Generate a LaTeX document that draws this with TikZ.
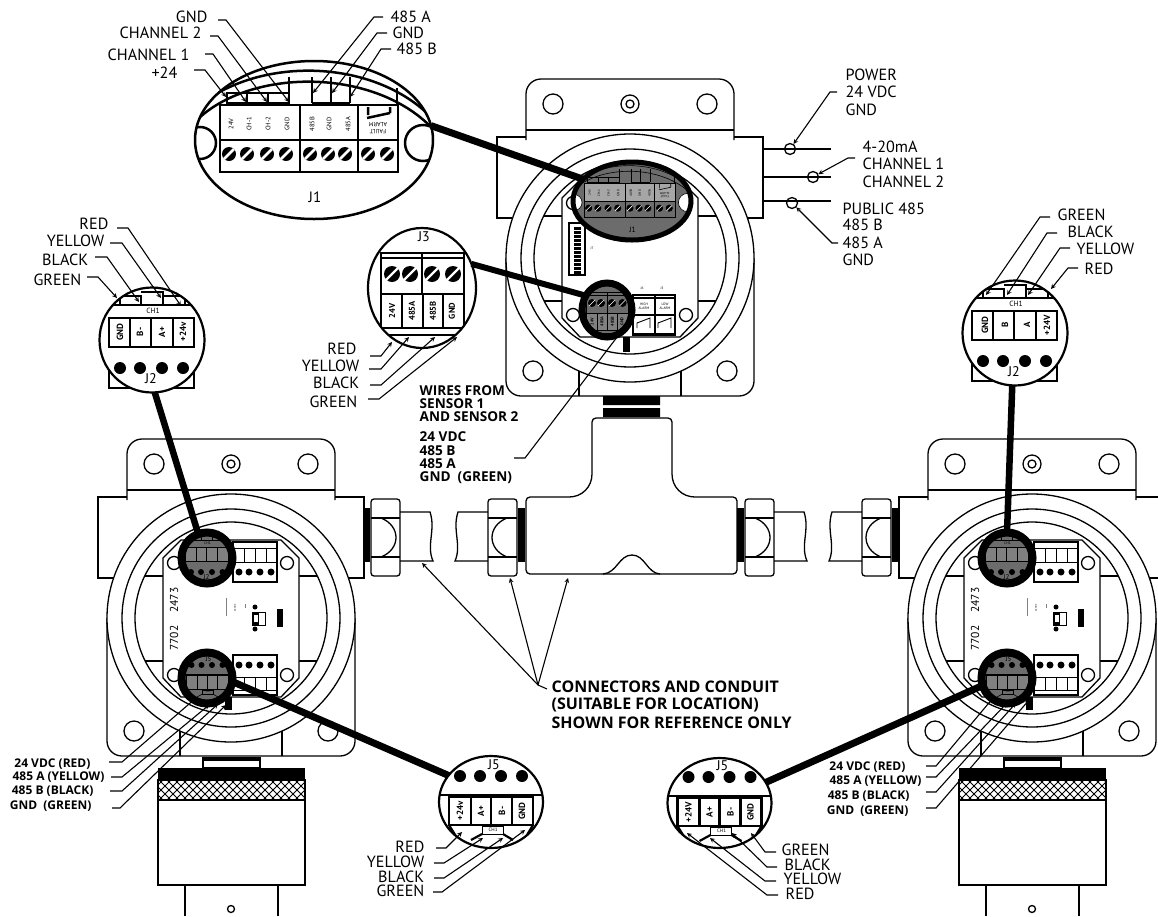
\documentclass[tikz,border=0pt]{standalone}
\usepackage{fontspec}
\setmainfont{PT Sans}
\newfontfamily\boldfam{Open Sans}
\usetikzlibrary{shapes.geometric}
\tikzset{
    lbl/.style={font=\fontsize{16.2}{17}\selectfont,inner sep=0pt},
    boldlbl/.style={font=\fontsize{12}{14}\boldfam\bfseries,inner sep=0pt},
    note/.style={inner sep=0pt,anchor=west},
    pintxt/.style={inner sep=0pt,transform shape},
    leader/.style={->,>=stealth,line width=1.1pt},
    tie/.style={line width=#1},
    callout/.style={ellipse,draw,inner sep=0pt,outer sep=0pt},
    % enclosure, seen from the front
    pics/housing/.style={code={
        \draw[rounded corners=15] (-104,-118)--(-104,-179)--(104,-179)--(104,-118);
        \draw (-104,-128)--(104,-128);
        \foreach \s in {-1,1} \draw (\s*104,-121)--(\s*133,-121)--(\s*133,-40)--(\s*100,-40);
        \draw[rounded corners=15] (-124,0)--(-124,138)--(124,138)--(124,0);
        \draw (-51,100)--(-51,138) (51,100)--(51,138);
        \draw[fill=white] (0,0) circle[radius=124];
        \foreach \r in {109,96} \draw (0,0) circle[radius=\r];
        \foreach \x/\y in {-77/-154,77/-154,-97/113,97/113} \draw (\x,\y) circle[radius=10];
        \draw (0,-154) circle[radius=9] (0,-154) circle[radius=4];
        \draw (-86,-42)--(-68,-42) (68,-42)--(86,-42) (-86,43)--(-68,43) (68,43)--(86,43);
        \draw[fill=white] (-68,-60)--(-50,-78)--(50,-78)--(68,-60)--(68,60)--(50,79)--(-50,79)--(-68,60)--cycle;
        \foreach \x/\y in {-57/-55,56/-55,-57/57,56/57} \draw (\x,\y) circle[radius=6.5];
    }},
    % board of the two side enclosures
    pics/sideboard/.style={code={
        \node[pintxt,rotate=90,font=\fontsize{11.5}{12}\selectfont] (a) at (-57,-18) {2473};
        \node[pintxt,rotate=90,font=\fontsize{11.5}{12}\selectfont] (b) at (-57,20) {7702};
        \node[pintxt,rotate=90,font=\fontsize{2.5}{3}\selectfont] (c) at (4,-10) {24VDC};
        \draw[line width=.4pt,gray] (-5,-20)--(-5,-2) (14,-14)--(14,-10);
        \draw[fill=white,line width=1pt] (21,-6) rectangle (34,7);
        \fill (21,-6) rectangle (28,7);
        \fill[white] (23,-3) rectangle (27,4);
        \fill (24,-11) circle[radius=2.5] (24,11) circle[radius=2.5];
        \fill (46,-9) rectangle (52,9);
        \foreach \y/\d/\a/\b in {-76/-46/-70/-56,37/47/59/72}{
            \draw (2,\y) rectangle (46,\y+40);
            \foreach \x in {2,13,24,35,46} \draw[line width=.8pt] (\x,\a)--(\x,\b);
            \draw[line width=.8pt] (2,\a)--(46,\a) (2,\b)--(46,\b);
            \foreach \x in {8,18,29,40} \fill (\x,\d) circle[radius=3.5];
        }
        \fill (-6,79) rectangle (1,92);
    }},
    % board of the top enclosure
    pics/topboard/.style={code={
        \draw (-61,-35) rectangle (-45,17);
        \foreach \y in {-31,-27,...,13} \fill (-56,\y) rectangle (-49,\y+2.6);
        \node[pintxt,font=\fontsize{3.5}{4}\selectfont] (jseven) at (-38,-10) {J7};
        \node[pintxt,font=\fontsize{3.5}{4}\selectfont] (jsix) at (12,30) {J6};
        \node[pintxt,font=\fontsize{3.5}{4}\selectfont] (jfive) at (32,30) {J5};
        \draw (3,37) rectangle (45,77) (25,37)--(25,77) (3,40)--(45,40) (3,57)--(45,57);
        \fill (3,75) rectangle (45,77);
        \foreach \x/\t/\c in {14/HIGH/hi,35/LOW/lo}{
            \node[pintxt,font=\fontsize{3.5}{4}\selectfont,align=center] (\c) at (\x,48) {\t\\ALARM};
            \draw[line width=.9pt] (\x-7,70)--(\x-7,65)--(\x+6,60)--(\x+6,70);
        }
        \fill (-7,79) rectangle (0,94);
    }},
    % the large terminal block
    pics/jone/.style={code={
        \draw (-120,-30) .. controls (-60,-84) and (60,-84) .. (120,-20);
        \draw (-115,-22) .. controls (-60,-72) and (60,-72) .. (118,-12);
        \foreach \x/\t in {-114/16,109/18} \draw[fill=white] (\x,3) circle[radius=\t];
        \draw[fill=#1] (-94,-35) rectangle (84,0);
        \draw (-94,0) rectangle (84,32) (-14,-35)--(-14,32) (44,-35)--(44,32);
        \draw (-87,-35)--(-87,-47)--(-25,-47)--(-25,-35) (-67,-47)--(-67,-37)--(-25,-37) (-46,-47)--(-46,-37) (-87,-37)--(-67,-37);
        \foreach \x in {-25,-2,17,36} \draw (\x,-63)--(\x,-37);
        \draw (-2,-37)--(36,-37) (83,-52)--(83,-35);
        \foreach \x in {-85,-67,-47,-28,-4,14,31,54,73}{
            \fill[black] (\x,14) circle[radius=7];
            \draw[white] (\x-5,19)--(\x+5,9);
        }
        \foreach \x/\t/\c in {-83/24V/a,-65/CH-1/b,-46/CH-2/c,-27/GND/d,-2/485B/e,15/GND/f,34/485A/g}
            \node[pintxt,rotate=90,font=\fontsize{6.5}{7}\selectfont] (\c) at (\x,-16) {\t};
        \node[pintxt,rotate=180,font=\fontsize{6}{7}\selectfont] (fault) at (64,-8) {FAULT};
        \node[pintxt,rotate=180,font=\fontsize{6}{7}\selectfont] (alarm) at (64,-15) {ALARM};
        \draw (54,-33)--(54,-25) (53,-22)--(76,-27) (76,-33)--(76,-27);
        \node[pintxt,font=\fontsize{15}{16}\selectfont] (lab) at (1,57) {J1};
    }},
    % the terminal block of the top enclosure
    pics/jthree/.style={code={
        \draw (-41,-35) rectangle (42,47) (-41,-30)--(42,-30) (0,-35)--(0,6) (-41,6)--(42,6) (-41,40)--(42,40);
        \foreach \x in {-20,1,21} \draw (\x,6)--(\x,40);
        \draw[fill=#1] (-41,6) rectangle (-20,40) (-20,6) rectangle (1,40) (1,6) rectangle (21,40) (21,6) rectangle (42,40);
        \foreach \x in {-30,-12,10,31}{
            \fill[black] (\x,-14) circle[radius=8];
            \draw[white] (\x-6,-8)--(\x+6,-20);
        }
        \foreach \x/\t/\c in {-30/24V/a,-10/485A/b,11/485B/c,30/GND/d}
            \node[pintxt,rotate=90,font=\fontsize{8.5}{9}\selectfont\bfseries] (\c) at (\x,23) {\t};
        \node[pintxt,font=\fontsize{14}{15}\selectfont] (lab) at (2,-51) {J3};
    }},
    % sensor block with the holes below its pins
    pics/jtwo/.style 2 args={code={
        \draw (-43,-35)--(42,-35) (-43,-22)--(42,-22) (-43,7)--(42,7);
        \foreach \x in {-43,-22,-1,21,42} \draw (\x,-22)--(\x,7);
        \draw[fill=#1] (-43,-22) rectangle (-22,7) (-22,-22) rectangle (-1,7) (-1,-22) rectangle (21,7) (21,-22) rectangle (42,7);
        \draw (-32,-36)--(-32,-44)--(-11,-44)--(-11,-36) (-11,-48)--(11,-48)--(11,-36) (11,-44)--(33,-44)--(33,-36);
        \foreach \x in {-32,-12,10,31} \fill[black] (\x,28) circle[radius=6];
        \foreach \x/\t [count=\i] in #2
            \node[pintxt,rotate=90,font=\fontsize{9}{10}\selectfont\bfseries] (t\i) at (\x,-8) {\t};
        \node[pintxt,font=\fontsize{7.5}{8}\selectfont] (ch) at (1,-29) {CH1};
        \node[pintxt,font=\fontsize{14}{15}\selectfont] (lab) at (-1,39) {J2};
    }},
    % sensor block with the holes above its pins
    pics/jfive/.style 2 args={code={
        \draw (-52,-7)--(52,-7) (-42,23)--(42,23);
        \foreach \x in {-42,-20,0,21,42} \draw (\x,-7)--(\x,23);
        \draw[fill=#1] (-42,-5) rectangle (-20,23) (-20,-5) rectangle (0,23) (0,-5) rectangle (21,23) (21,-5) rectangle (42,23);
        \foreach \x in {-31,-11,10,31} \fill[black] (\x,-26) circle[radius=6];
        \foreach \x/\t [count=\i] in #2
            \node[pintxt,rotate=90,font=\fontsize{9}{10}\selectfont\bfseries] (t\i) at (\x,9) {\t};
        \draw[line width=.7pt] (-9,24) rectangle (12,32);
        \node[pintxt,font=\fontsize{5}{6}\selectfont] (ch) at (2,28) {CH1};
        \node[pintxt,font=\fontsize{14}{15}\selectfont] (lab) at (3,-37) {J5};
        \draw (-42,23)--(-34,36) (-9,32)--(-20,38) (12,32)--(22,38) (42,23)--(36,33);
    }},
    % nut, ring and cut end of a conduit
    pics/conduit/.style={code={
        \fill (0,508) rectangle (7,562);
        \draw[rounded corners=3] (8,499) rectangle (37,576);
        \draw (8,518)--(37,518) (8,557)--(37,557);
        \draw (18,518) .. controls (38,526) and (38,549) .. (18,557);
        \draw (37,512)--(67,512) .. controls (73,530) and (63,545) .. (70,561)--(37,561);
    }},
    pics/sensor/.style={code={
        \draw[fill=white] (-28,758) rectangle (29,768);
        \fill (-28,758) rectangle (29,761);
        \fill (-73,768) rectangle (74,780);
        \draw (-73,780) rectangle (74,885);
        \begin{scope}
            \clip (-73,780) rectangle (74,800);
            \foreach \x in {-96,-88,...,76} \draw[line width=1pt] (\x,780)--(\x+20,800) (\x+20,780)--(\x,800);
        \end{scope}
        \draw (-73,800)--(74,800);
        \draw (-46,885)--(-46,916) (47,885)--(47,916);
        \draw (0,909) circle[radius=3.5];
    }},
}
\begin{document}
\begin{tikzpicture}[x=1pt,y=-1pt,line width=1.3pt]
    \useasboundingbox (0,0) rectangle (1158,916);
    % three enclosures
    \pic (hleft) at (231,618) {housing};
    \pic (hright) at (1032,618) {housing};
    \pic (htop) at (630,258) {housing};
    \pic (bleft) at (231,618) {sideboard};
    \pic (bright) at (1032,618) {sideboard};
    \pic (btop) at (630,258) {topboard};
    \pic (sleft) at (231,0) {sensor};
    \pic (sright) at (1032,0) {sensor};
    % conduit
    \pic (cone) at (363,0) {conduit};
    \pic[xscale=-1] (ctwo) at (525,0) {conduit};
    \pic (cthree) at (737,0) {conduit};
    \pic[xscale=-1] (cfour) at (899,0) {conduit};
    \draw[rounded corners=4] (526,574)--(526,497)--(565,497) .. controls (582,497) and (592,487) .. (592,470)--(592,418)--(672,418)--(672,470) .. controls (672,487) and (682,497) .. (699,497)--(737,497)--(737,574)--cycle;
    \draw (603,574) .. controls (617,573) and (619,555) .. (632,555) .. controls (645,555) and (647,573) .. (660,574);
    \fill (603,396) rectangle (660,405) (603,408) rectangle (660,417);
    % wires at the top enclosure
    \draw (763,149)--(831,149) (763,177)--(831,177) (763,201)--(831,201);
    \node[circle,draw,minimum size=11pt,inner sep=0pt] (cpower) at (790,149) {};
    \node[circle,draw,minimum size=11pt,inner sep=0pt] (csignal) at (813,177) {};
    \node[circle,draw,minimum size=11pt,inner sep=0pt] (cbus) at (792,203) {};
    % blocks in their rings
    \node[callout,line width=2.5pt,fill=white,minimum width=238pt,minimum height=158pt,path picture={\pic (a) at (path picture bounding box.center) {jone=white};}] (jonebig) at (314,140) {};
    \node[callout,line width=5pt,fill=gray!85!black,minimum width=118pt,minimum height=78pt,path picture={\pic[scale=.51,line width=.6pt] (b) at (path picture bounding box.center) {jone=gray!70};}] (jonesmall) at (632,201) {};
    \node[callout,line width=2.2pt,fill=white,minimum width=108pt,minimum height=120pt,path picture={\pic (c) at (path picture bounding box.center) {jthree=white};}] (jthreebig) at (422,288) {};
    \node[callout,line width=7pt,fill=gray!85!black,minimum width=50pt,minimum height=54pt,path picture={\pic[scale=.5,line width=.6pt] (d) at (path picture bounding box.center) {jthree=gray};}] (jthreesmall) at (607,310) {};
    \foreach \n/\x/\y/\t in {jtwol/152/340/{-32/GND,-12/B-,10/A+,31/+24v},jtwor/1015/333/{-30/GND,-10/B,12/A,32/+24V}}{
        \draw (\x-43,\y-30)--(\x-43,\y+48)--(\x+42,\y+48)--(\x+42,\y-30);
        \node[callout,line width=2.2pt,fill=white,minimum size=105pt,path picture={\pic (\n in) at (path picture bounding box.center) {jtwo={white}{\t}};}] (\n) at (\x,\y) {};
    }
    \node[callout,line width=2.2pt,fill=white,minimum width=104pt,minimum height=92pt,path picture={\pic (e) at (path picture bounding box.center) {jfive={white}{{-31/+24v,-10/A+,11/B-,31/GND}}};}] (jfivel) at (491,802) {};
    \node[callout,line width=2.2pt,fill=white,minimum width=104pt,minimum height=90pt,path picture={\pic (f) at (path picture bounding box.center) {jfive={white}{{-31/+24V,-10/A+,11/B-,31/GND}}};}] (jfiver) at (719.5,803) {};
    \foreach \n/\x in {l/207,r/1007}{
        \node[callout,line width=8pt,fill=gray!85!black,minimum size=51pt,path picture={\pic[scale=.5,line width=.6pt] (\n g) at (path picture bounding box.center) {jtwo={gray}{{-32/,-12/,10/,31/}}};}] (smallj\n) at (\x,558) {};
        \node[callout,line width=8pt,fill=gray!85!black,minimum size=51pt,path picture={\pic[scale=.5,line width=.6pt] (\n h) at (path picture bounding box.center) {jfive={gray}{{-31/,-10/,11/,31/}}};}] (smallk\n) at (\x,678) {};
    }
    % heavy lines from each block to its place
    \draw[tie=7pt] (jonebig.7)--(jonesmall.156);
    \draw[tie=6pt] (jthreebig.26)--(jthreesmall.146);
    \draw[tie=6.5pt] (jtwol.-87)--(smalljl.110);
    \draw[tie=6.5pt] (jtwor.-93)--(smalljr.90);
    \draw[tie=7pt] (jfivel.148)--(smallkl.-8);
    \draw[tie=7pt] (jfiver.24)--(smallkr.197);
    % labels with a leader
    \foreach \n/\f/\a/\x/\y/\t/\dy/\g/\e/\tx/\ty in {
        la/lbl/east/208/17/GND/3/10/18/289/102,
        lb/lbl/east/202/33/CHANNEL 2/3/8/16/267/102,
        lc/lbl/east/190/55/CHANNEL 1/-1/15/23/246/102,
        ld/lbl/east/178/73/+24/-3/16/27/226/97,
        le/lbl/west/390/17/485 A/0/-7/-16/313/93,
        lf/lbl/west/392/33/GND/0/-5/-15/332/93,
        lg/lbl/west/396/49/485 B/0/-5/-15/350/97,
        ma/lbl/east/109/224/RED/4/8/19/181/306,
        mb/lbl/east/105/241/YELLOW/2/5/17/161/298,
        mc/lbl/east/89/260/BLACK/-3/6/18/139/302,
        md/lbl/east/82/280/GREEN/-3/5/16/117/298,
        na/lbl/east/357/349/RED/7/13/24/392/342,
        nb/lbl/east/360/366/YELLOW/3/9/21/409/337,
        nc/lbl/east/360/383/BLACK/2/10/21/435/337,
        nd/lbl/east/358/402/GREEN/-3/10/21/457/337,
        oa/lbl/east/425/847/RED/1/11/21/462/832,
        ob/lbl/east/425/862/YELLOW/1/9/19/483/838,
        oc/lbl/east/425/877/BLACK/1/9/19/503/838,
        od/lbl/east/425/891/GREEN/1/8/17/525/830,
        pa/lbl/west/781/850/GREEN/2/-5/-16/751/833,
        pb/lbl/west/784/865/BLACK/2/-7/-17/732/833,
        pc/lbl/west/783/879/YELLOW/2/-7/-18/710/838,
        pd/lbl/west/785/894/RED/1/-7/-18/687/833,
        qa/lbl/west/1057/215/GREEN/2/-7/-17/986/295,
        qb/lbl/west/1067/232/BLACK/1/-10/-20/1007/295,
        qc/lbl/west/1076/249/YELLOW/-1/-6/-16/1028/295,
        qd/lbl/west/1084/269/RED/-1/-6/-16/1051/289,
        ra/boldlbl/east/91/764/24 VDC (RED)/-2/18/31/196/698,
        rb/boldlbl/east/105/777/485 A (YELLOW)/0/6/17/209/705,
        rc/boldlbl/east/94/791/485 B (BLACK)/0/16/28/218/704,
        rd/boldlbl/east/92/806/GND~~(GREEN)/2/20/28/226/705,
        sa/boldlbl/east/906/767/24 VDC (RED)/-1/20/30/993/698,
        sb/boldlbl/east/922/781/485 A (YELLOW)/-4/4/14/1007/703,
        sc/boldlbl/east/910/796/485 B (BLACK)/-4/16/26/1016/703,
        sd/boldlbl/east/909/811/GND~~(GREEN)/-3/17/27/1029/700}{
        \node[\f,anchor=\a] (\n) at (\x,\y) {\t};
        \coordinate (\n tip) at (\tx,\ty);
        \draw[leader] ([shift={(\g,\dy)}]\n.\a)--([shift={(\e,\dy)}]\n.\a)--(\n tip);
    }
    % text beside the conduit wires
    \path foreach \n/\x/\y/\t in {tpa/845/75/POWER,tpb/845/92/24 VDC,tpc/845/110/GND,
        tma/862/147/4-20mA,tmb/862/164/CHANNEL 1,tmc/862/182/CHANNEL 2,
        tba/842/209/PUBLIC 485,tbb/842/225/485 B,tbc/842/243/485 A,tbd/842/260/GND}
        {(\x,\y) node[lbl,anchor=west] (\n) {\t}};
    \draw[leader] ([xshift=-8pt]tpb.west)--++(-7,0)--(cpower);
    \draw[leader] ([xshift=-7pt,yshift=6pt]tmb.west)--++(-7,0)--(csignal);
    \draw[leader] ([xshift=-4pt]tbc.west)--++(-6,0)--(cbus);
    \path foreach \n/\y/\t in {wa/391/WIRES FROM,wb/404/SENSOR 1,wc/417/AND SENSOR 2,wd/437/24 VDC,we/451/485 B,wf/464/485 A,wg/478/GND~~(GREEN)}
        {(419,\y) node[note,font=\fontsize{13.6}{15}\boldfam\bfseries] (\n) {\t}};
    \coordinate (wiretail) at (514,458);
    \draw[leader] (wiretail)--++(11,0)--(jthreesmall.-60);
    \path foreach \n/\y/\t in {ka/687/CONNECTORS AND CONDUIT,kb/705/{(SUITABLE FOR LOCATION)},kc/723/SHOWN FOR REFERENCE ONLY}
        {(551,\y) node[note,font=\fontsize{16}{17}\boldfam\bfseries] (\n) {\t}};
    \coordinate (conntail) at (538,685);
    \draw[line width=1.1pt] ([xshift=-4pt,yshift=-2pt]ka.west)--(conntail);
    \foreach \n/\x/\y in {ta/422/563,tb/510/578,tc/568/578}{
        \coordinate (\n) at (\x,\y);
        \draw[leader] (conntail)--(\n);
    }
\end{tikzpicture}
\end{document}
